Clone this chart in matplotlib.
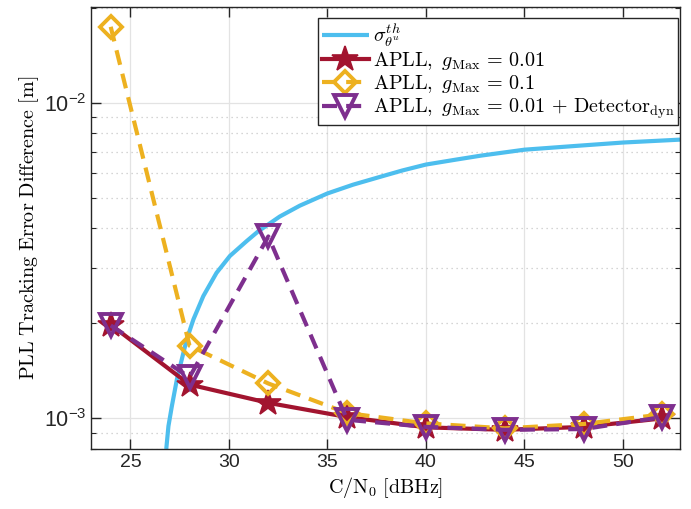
import numpy as np
import matplotlib
matplotlib.use("Agg")
import matplotlib.pyplot as plt
from matplotlib.ticker import FixedLocator, FixedFormatter, LogLocator, NullFormatter

plt.rcParams['font.family'] = ['Liberation Sans', 'DejaVu Sans']
plt.rcParams['mathtext.fontset'] = 'cm'
plt.rcParams['mathtext.rm'] = 'Liberation Sans'
plt.rcParams['mathtext.it'] = 'Liberation Sans:italic'
plt.rcParams['mathtext.bf'] = 'Liberation Sans:bold'

# C/N0 grid of the simulations [dBHz]
cn0 = [24, 28, 32, 36, 40, 44, 48, 52]

# Tracking error differences [m]
apll_001 = [1.98e-3, 1.28e-3, 1.12e-3, 1.01e-3, 0.937e-3, 0.92e-3, 0.94e-3, 1.00e-3]
apll_01 = [17.4e-3, 1.70e-3, 1.29e-3, 1.04e-3, 0.964e-3, 0.93e-3, 0.96e-3, 1.03e-3]
apll_det = [1.97e-3, 1.35e-3, 3.77e-3, 0.99e-3, 0.94e-3, 0.92e-3, 0.925e-3, 1.01e-3]

# Theoretical bound sigma_theta^th
cn0_th = [26.82, 26.93, 27.10, 27.36, 27.61, 27.86, 28.20, 28.70, 29.37, 30.05,
          30.89, 31.48, 32.58, 33.6, 35.0, 36.3, 37.7, 38.8, 40.0, 41.5, 42.8,
          45.0, 47.5, 50.0, 52.9]
sigma_th = [0.80e-3, 0.945e-3, 1.09e-3, 1.33e-3, 1.54e-3, 1.78e-3, 2.06e-3, 2.44e-3,
            2.89e-3, 3.27e-3, 3.64e-3, 3.91e-3, 4.36e-3, 4.72e-3, 5.16e-3, 5.50e-3,
            5.83e-3, 6.10e-3, 6.37e-3, 6.60e-3, 6.80e-3, 7.10e-3, 7.29e-3, 7.48e-3,
            7.64e-3]

c_blue = '#4DBEEE'
c_red = '#A2142F'
c_yel = '#EDB120'
c_pur = '#7E2F8E'

fig = plt.figure(figsize=(6.91, 5.09), dpi=100)
ax = fig.add_axes([0.1317, 0.1179, 0.8525, 0.8683])

lw = 3.0
dash = (0, (3.6, 2.2))
ax.plot(cn0_th, sigma_th, color=c_blue, lw=lw, solid_capstyle='butt',
        solid_joinstyle='round', label=r'$\sigma_{\theta^u}^{th}$')
ax.plot(cn0, apll_001, color=c_red, lw=lw, marker='*', ms=19, mew=1.2,
        mfc=c_red, mec=c_red, label=r'$\mathrm{APLL,}\ g_{\mathrm{Max}}\,=\,0.01$')
ax.plot(cn0, apll_01, color=c_yel, lw=lw, ls=dash, marker='D', ms=11.5, mew=2.8,
        mfc='none', mec=c_yel, label=r'$\mathrm{APLL,}\ g_{\mathrm{Max}}\,=\,0.1$')
ax.plot(cn0, apll_det, color=c_pur, lw=lw, ls=dash, marker='v', ms=16, mew=2.8,
        mfc='none', mec=c_pur,
        label=r'$\mathrm{APLL,}\ g_{\mathrm{Max}}\,=\,0.01\,+\,\mathrm{Detector_{dyn}}$')

ax.set_yscale('log')
ax.set_xlim(23.0, 52.9)
ax.set_ylim(8.0e-4, 2.01e-2)

xt = [25, 30, 35, 40, 45, 50]
ax.xaxis.set_major_locator(FixedLocator(xt))
ax.xaxis.set_major_formatter(FixedFormatter([str(v) for v in xt]))
ax.yaxis.set_major_locator(FixedLocator([1e-3, 1e-2]))
ax.yaxis.set_major_formatter(FixedFormatter([r'$10^{-3}$', r'$10^{-2}$']))
ax.yaxis.set_minor_locator(LogLocator(base=10, subs=np.arange(2, 10)))
ax.yaxis.set_minor_formatter(NullFormatter())

ax.tick_params(which='both', direction='in', top=True, right=True,
               colors='#262626', labelcolor='#262626', labelsize=14)
ax.tick_params(axis='y', which='major', labelsize=15.5)
ax.tick_params(which='major', length=7, width=1.0)
ax.tick_params(which='minor', length=3.5, width=0.8)
for lab in ax.get_yticklabels():
    lab.set_math_fontfamily('custom')
for s in ax.spines.values():
    s.set_color('#262626')
    s.set_linewidth(1.0)

ax.grid(True, which='major', color='#e3e3e3', lw=0.9, ls='-')
ax.grid(True, which='minor', axis='y', color='#c8c8c8', lw=0.9, ls=(0, (1, 3)))
ax.set_axisbelow(True)

ax.set_xlabel(r'$\mathrm{C/N_0\ [dBHz]}$', fontsize=14.5, math_fontfamily='cm', labelpad=3)
ax.set_ylabel(r'$\mathrm{PLL\ Tracking\ Error\ Difference\ [m]}$', fontsize=14.5,
              math_fontfamily='cm', labelpad=2)

leg = ax.legend(loc='upper right', bbox_to_anchor=(0.997, 0.975), fontsize=14.5,
                handlelength=2.3, handletextpad=0.2, borderpad=0.2,
                labelspacing=0.05, borderaxespad=0.0, fancybox=False,
                framealpha=1.0, edgecolor='#262626')
leg.get_frame().set_linewidth(1.0)
for t in leg.get_texts():
    t.set_math_fontfamily('cm')

fig.savefig('out.png', dpi=100)
